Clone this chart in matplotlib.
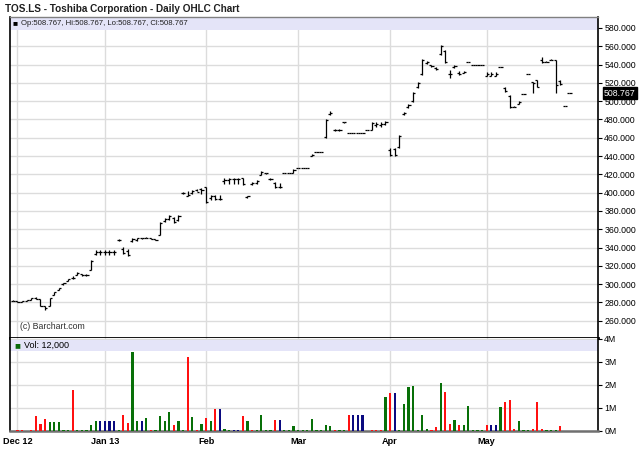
import numpy as np
import pandas as pd
import matplotlib
matplotlib.use("Agg")
import matplotlib.pyplot as plt
from matplotlib.patches import Rectangle
from matplotlib.transforms import blended_transform_factory

plt.rcParams['font.family'] = ['Liberation Sans', 'DejaVu Sans']

# ---- trading calendar (LSE) ----
holidays = ['2012-12-25', '2012-12-26', '2013-01-01', '2013-03-29',
            '2013-04-01', '2013-05-06', '2013-05-27']
dates = pd.bdate_range('2012-11-30', '2013-05-29')
dates = dates[~dates.isin(pd.to_datetime(holidays))]

# ---- daily prices ----
opens = [282, 282, 281, 282, 283, 285, 284, 276, 276, 288, 294, 300, 303, 307, 310, 311, 310,
         316, 333, 335, 335, 335, 335, 348, 338, 336, 347, 348, 350, 350, 351, 349,
         354, 369, 371, 372, 370, 400, 396, 400, 403, 404, 406, 394, 396, 393,
         413, 414, 415, 415, 416, 395, 409, 411, 419, 421, 415, 411, 406, 421, 422,
         422, 427, 427, 427, 440, 444, 445, 461, 486, 469, 469, 477, 465, 465, 465,
         465, 469, 469, 474, 474, 475, 447, 448, 450, 486, 494, 500, 515, 530, 542,
         539, 536, 552, 555, 530, 537, 531, 531, 543, 540, 540, 540, 528, 528, 528,
         537, 514, 506, 494, 497, 508, 530, 521, 523, 545, 543, 545, 545, 522, 495,
         508.767]
highs = [283, 282, 282, 283, 285, 286, 284, 276, 285, 291, 296, 301, 306, 309, 313, 311, 311,
         326, 337, 337, 337, 337, 337, 349, 341, 338, 350, 350, 351, 352, 351, 349,
         368, 372, 376, 373, 376, 401, 402, 403, 404, 405, 406, 398, 397, 397,
         416, 416, 416, 416, 416, 396, 412, 414, 424, 422, 416, 412, 411, 422, 422,
         426, 427, 427, 427, 442, 445, 445, 480, 489, 470, 470, 477, 465, 465, 465,
         465, 469, 477, 477, 477, 478, 449, 449, 463, 488, 497, 510, 521, 546, 544,
         540, 537, 561, 556, 534, 540, 533, 533, 543, 540, 540, 540, 532, 532, 532,
         537, 516, 507, 495, 500, 508, 530, 521, 523, 548, 544, 546, 545, 523, 495,
         508.767]
lows = [282, 281, 281, 282, 283, 284, 276, 272, 276, 288, 294, 299, 303, 306, 310, 309, 309,
        315, 332, 332, 332, 332, 332, 347, 333, 331, 346, 347, 349, 350, 349, 348,
        354, 368, 370, 367, 369, 399, 396, 399, 402, 399, 389, 392, 392, 392,
        410, 410, 410, 410, 408, 394, 408, 410, 419, 420, 414, 405, 405, 421, 421,
        422, 427, 427, 427, 440, 444, 444, 460, 485, 467, 467, 476, 465, 465, 465,
        465, 468, 469, 472, 472, 474, 440, 440, 449, 485, 493, 499, 514, 529, 541,
        537, 534, 550, 542, 525, 536, 529, 531, 543, 540, 540, 540, 527, 527, 527,
        537, 510, 493, 494, 497, 508, 530, 509, 515, 542, 543, 545, 509, 518, 495,
        508.767]
closes = [282, 281, 282, 283, 285, 284, 276, 274, 285, 291, 296, 301, 306, 307, 312, 310, 310,
          325, 335, 335, 335, 335, 335, 348, 334, 332, 349, 350, 350, 351, 349, 348,
          367, 371, 375, 368, 375, 400, 398, 402, 401, 403, 390, 396, 393, 393,
          414, 415, 415, 415, 409, 396, 411, 413, 423, 421, 415, 406, 406, 422, 421,
          425, 427, 427, 427, 441, 445, 445, 479, 487, 469, 469, 477, 465, 465, 465,
          465, 469, 476, 475, 475, 477, 441, 441, 462, 487, 496, 509, 520, 545, 543,
          538, 535, 560, 543, 530, 538, 530, 532, 543, 540, 540, 540, 530, 530, 530,
          537, 511, 494, 494, 499, 508, 530, 520, 516, 543, 543, 545, 518, 519, 495,
          508.767]

# ---- daily volume (millions of shares) and bar direction ----
volume = [0.0, 0.03, 0.03, 0.02, 0.03, 0.66, 0.30, 0.52, 0.40, 0.40, 0.38, 0.04, 0.04,
          1.80, 0.06, 0.03, 0.03, 0.25, 0.45, 0.45, 0.45, 0.45, 0.45, 0.03, 0.70, 0.34,
          3.42, 0.42, 0.42, 0.58, 0.05, 0.04, 0.65, 0.42, 0.82, 0.25, 0.45, 0.05, 3.22,
          0.62, 0.05, 0.30, 0.58, 0.45, 0.94, 0.94, 0.07, 0.05, 0.06, 0.06, 0.65, 0.45,
          0.06, 0.03, 0.70, 0.04, 0.03, 0.49, 0.49, 0.03, 0.03, 0.20, 0.03, 0.03, 0.03,
          0.54, 0.03, 0.03, 0.25, 0.20, 0.05, 0.06, 0.04, 0.70, 0.70, 0.70, 0.70, 0.0,
          0.05, 0.05, 0.05, 1.49, 1.63, 1.63, 0.06, 1.16, 1.93, 1.97, 0.03, 0.70, 0.07,
          0.06, 0.16, 2.09, 1.69, 0.30, 0.49, 0.28, 0.28, 1.10, 0.04, 0.04, 0.04, 0.28,
          0.28, 0.28, 1.03, 1.27, 1.36, 0.08, 0.45, 0.04, 0.04, 0.08, 1.27, 0.07, 0.04,
          0.04, 0.06, 0.20, 0.0, 0.0]
direction = ['d', 'd', 'd', 'd', 'd', 'd', 'd', 'd', 'u', 'u', 'u', 'u', 'u',
             'd', 'u', 'u', 'u', 'u', 'u', 'f', 'f', 'f', 'f', 'u', 'd', 'd',
             'u', 'u', 'f', 'u', 'd', 'u', 'u', 'u', 'u', 'd', 'u', 'u', 'd',
             'u', 'd', 'u', 'd', 'u', 'd', 'f', 'u', 'u', 'f', 'f', 'd', 'u',
             'd', 'u', 'u', 'u', 'u', 'd', 'f', 'u', 'u', 'u', 'u', 'u', 'u',
             'u', 'u', 'u', 'u', 'u', 'd', 'u', 'u', 'd', 'f', 'f', 'f', 'f',
             'd', 'd', 'd', 'u', 'd', 'f', 'u', 'u', 'u', 'u', 'u', 'u', 'u',
             'd', 'd', 'u', 'd', 'd', 'u', 'd', 'u', 'u', 'u', 'u', 'u', 'd',
             'f', 'f', 'u', 'd', 'd', 'd', 'u', 'u', 'u', 'd', 'd', 'd', 'u',
             'u', 'u', 'd', 'd', 'd']

last_price = 508.767
volume_label = "Vol: 12,000"

tick_months = ['Dec 12', 'Jan 13', 'Feb', 'Mar', 'Apr', 'May']
price_ticks = list(range(260, 581, 20))
volume_ticks = [0, 1, 2, 3, 4]

# ---- figure ----
x = np.arange(len(dates))
fig = plt.figure(figsize=(6.4, 4.68), dpi=100)
L, W = 10 / 640, 588 / 640
ax = fig.add_axes([L, 1 - 338 / 468, W, 321 / 468])
axv = fig.add_axes([L, 1 - 431 / 468, W, 93 / 468])

month_pos = [int(np.argmax((dates.month == d.month) & (dates.year == d.year)))
             for d in [pd.Timestamp('2012-12-01'), pd.Timestamp('2013-01-01'),
                       pd.Timestamp('2013-02-01'), pd.Timestamp('2013-03-01'),
                       pd.Timestamp('2013-04-01'), pd.Timestamp('2013-05-01')]]

grid_c = '#dcdcdc'
xlo, xhi = -0.63, 127.2

for a in (ax, axv):
    a.set_xlim(xlo, xhi)
    a.set_facecolor('white')
    a.yaxis.tick_right()
    a.tick_params(axis='y', which='both', direction='out', length=3, width=0.8,
                  pad=1.5, labelsize=6.3, colors='black')
    for m in month_pos:
        a.axvline(m, color=grid_c, lw=1.0, zorder=0)

# price panel
ax.set_ylim(241.2, 592.0)
ax.set_yticks(price_ticks)
ax.set_yticklabels([f"{v:.3f}" for v in price_ticks])
for v in price_ticks:
    ax.axhline(v, color=grid_c, lw=1.0, zorder=0)
ax.set_xticks([])
ax.add_patch(Rectangle((0, 0.9595), 1, 0.0405, transform=ax.transAxes,
                       facecolor='#e4e4f8', edgecolor='none', zorder=1))

w = 0.45
ax.vlines(x, lows, highs, color='black', lw=0.9, zorder=3)
ax.hlines(opens, x - w, x, color='black', lw=0.9, zorder=3)
ax.hlines(closes, x, x + w, color='black', lw=0.9, zorder=3)

for s in ('left', 'right'):
    ax.spines[s].set_color('black')
    ax.spines[s].set_linewidth(1.2)
ax.spines['top'].set_color('#808080')
ax.spines['top'].set_linewidth(1.0)
ax.spines['bottom'].set_color('black')
ax.spines['bottom'].set_linewidth(2.0)

ax.text(0.005, 0.978, "\u25A0", transform=ax.transAxes, fontsize=6, va='center',
        ha='left', color='black', zorder=5)
ax.text(0.019, 0.979, f"Op:{opens[-1]:.3f}, Hi:{highs[-1]:.3f}, Lo:{lows[-1]:.3f}, Cl:{closes[-1]:.3f}",
        transform=ax.transAxes, fontsize=5.6, va='center', ha='left', color='#202020', zorder=5)
ax.text(0.017, 0.035, "(c) Barchart.com", transform=ax.transAxes, fontsize=6.3,
        va='center', ha='left', color='#303030')

tr = blended_transform_factory(ax.transAxes, ax.transData)
ax.text(1.010, last_price, f"{last_price:.3f}", transform=tr, fontsize=6.3, color='white',
        va='center', ha='left', zorder=6,
        bbox=dict(boxstyle='square,pad=0.15', facecolor='black', edgecolor='black'))

# volume panel
axv.set_ylim(0, 4.04)
axv.set_yticks(volume_ticks)
axv.set_yticklabels([f"{v}M" for v in volume_ticks])
for v in volume_ticks:
    axv.axhline(v, color=grid_c, lw=1.0, zorder=0)
axv.add_patch(Rectangle((0, 0.86), 1, 0.12, transform=axv.transAxes,
                        facecolor='#e4e4f8', edgecolor='none', zorder=1))
cmap = {'u': '#087008', 'd': '#ff1010', 'f': '#0a0a80'}
axv.bar(x, volume, width=0.5, color=[cmap[d] for d in direction], zorder=3)
axv.set_xticks(month_pos)
axv.set_xticklabels(tick_months, fontsize=6.6, fontweight='bold')
axv.tick_params(axis='x', length=0, pad=4)
axv.spines['top'].set_visible(False)
for s in ('left', 'right'):
    axv.spines[s].set_color('black')
    axv.spines[s].set_linewidth(1.2)
axv.spines['bottom'].set_color('#707070')
axv.spines['bottom'].set_linewidth(1.8)
axv.text(0.008, 0.92, "\u25A0", transform=axv.transAxes, fontsize=7, va='center',
         ha='left', color='#0a6a0a', zorder=5)
axv.text(0.024, 0.92, volume_label, transform=axv.transAxes, fontsize=6.5,
         va='center', ha='left', color='black', zorder=5)

fig.text(5 / 640, 1 - 9 / 468, "TOS.LS - Toshiba Corporation - Daily OHLC Chart",
         fontsize=7.2, fontweight='bold', color='#202020', va='center', ha='left')

fig.savefig('out.png', dpi=100, facecolor='white')
